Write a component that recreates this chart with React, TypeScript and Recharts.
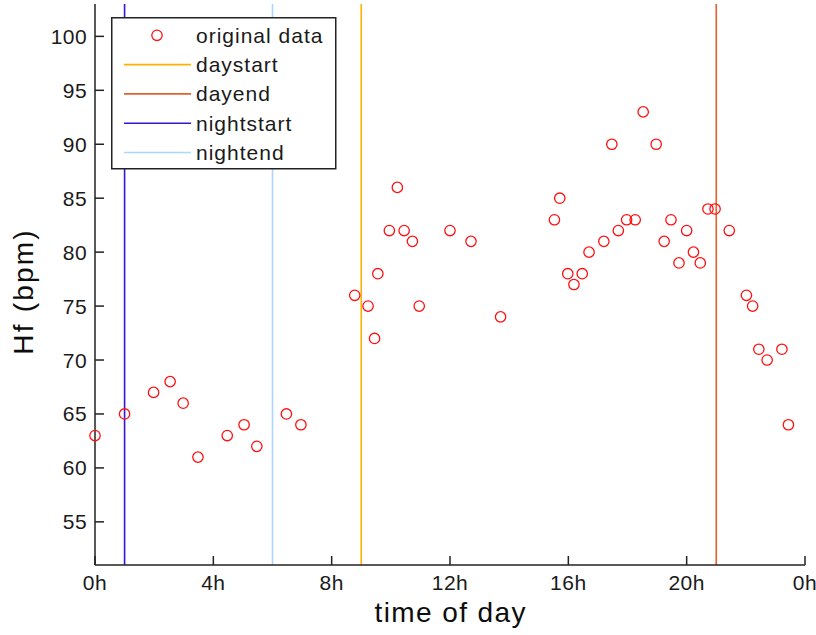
import React from 'react';
import { ScatterChart, Scatter, XAxis, YAxis, ReferenceLine, Legend } from 'recharts';

const hours = [0, 1, 1.98, 2.54, 2.98, 3.48, 4.47, 5.04, 5.47, 6.47, 6.96, 8.78, 9.23, 9.45, 9.56, 9.95, 10.22, 10.45, 10.73, 10.96, 12.0, 12.71, 13.71, 15.53, 15.71, 15.98, 16.19, 16.47, 16.7, 17.2, 17.47, 17.69, 17.97, 18.26, 18.53, 18.97, 19.24, 19.47, 19.74, 20.0, 20.23, 20.46, 20.72, 20.96, 21.44, 22.02, 22.23, 22.44, 22.72, 23.22, 23.44];
const bpm = [63, 65, 67, 68, 66, 61, 63, 64, 62, 65, 64, 76, 75, 72, 78, 82, 86, 82, 81, 75, 82, 81, 74, 83, 85, 78, 77, 78, 80, 81, 90, 82, 83, 83, 93, 90, 81, 83, 79, 82, 80, 79, 84, 84, 82, 76, 75, 71, 70, 71, 64];

const xTicks = [0, 4, 8, 12, 16, 20, 24];
const xTickLabels = ['0h', '4h', '8h', '12h', '16h', '20h', '0h'];
const yTicks = [55, 60, 65, 70, 75, 80, 85, 90, 95, 100];

const markerNames = ['daystart', 'dayend', 'nightstart', 'nightend'];
const markerHours = [9, 21, 1, 6];
const markerColors = ['#FFB000', '#E5602B', '#3A14CF', '#ACD6FF'];

const data = hours.map((h, i) => ({ h, v: bpm[i] }));

const FONT = '"Liberation Sans", Arial, Helvetica, sans-serif';
const TXT = '#1a1a1a';

const LeftTick = (props: any) => {
  const { x, y, payload } = props;
  return (
    <g>
      <line x1={x} y1={y} x2={x + 9} y2={y} stroke="#222" strokeWidth={1.5} />
      <text x={x - 8} y={y + 7.5} textAnchor="end" fontSize={21} letterSpacing={0.4} fontFamily={FONT} fill={TXT}>
        {payload.value}
      </text>
    </g>
  );
};
const RightTick = (props: any) => {
  const { x, y } = props;
  return <line x1={x} y1={y} x2={x - 9} y2={y} stroke="#222" strokeWidth={1.5} />;
};
const BottomTick = (props: any) => {
  const { x, y, payload, index } = props;
  return (
    <g>
      <line x1={x} y1={y} x2={x} y2={y - 9} stroke="#222" strokeWidth={1.5} />
      <text x={x} y={y + 25} textAnchor="middle" fontSize={21} letterSpacing={0.5} fontFamily={FONT} fill={TXT}>
        {xTickLabels[index] ?? payload.value}
      </text>
    </g>
  );
};
const TopTick = (props: any) => {
  const { x, y } = props;
  return <line x1={x} y1={y} x2={x} y2={y + 9} stroke="#222" strokeWidth={1.5} />;
};

const Circle = (props: any) => {
  const { cx, cy } = props;
  if (cx == null || cy == null) return null;
  return <circle cx={cx} cy={cy} r={5.2} fill="none" stroke="#FF1010" strokeWidth={1.3} />;
};

const LegendBox = () => {
  const rowGap = 29.3;
  const first = 18.3;
  return (
    <svg width={226} height={153} style={{ display: 'block' }}>
      <rect x={0.75} y={0.75} width={224} height={151} fill="#fff" stroke="#222" strokeWidth={1.5} />
      <circle cx={46} cy={first} r={5.2} fill="none" stroke="#FF1010" strokeWidth={1.3} />
      <text x={85} y={first + 7.5} fontSize={21} letterSpacing={1} fontFamily={FONT} fill={TXT}>original data</text>
      {markerNames.map((n, i) => {
        const cy = first + rowGap * (i + 1);
        return (
          <g key={n}>
            <line x1={13} y1={cy} x2={80} y2={cy} stroke={markerColors[i]} strokeWidth={1.6} />
            <text x={85} y={cy + 7.5} fontSize={21} letterSpacing={1} fontFamily={FONT} fill={TXT}>{n}</text>
          </g>
        );
      })}
    </svg>
  );
};

export default function App() {
  return (
    <div style={{ position: 'absolute', left: 0, top: 0, background: '#fff' }}>
      <ScatterChart width={816} height={635} margin={{ top: 4, right: 11, bottom: 0, left: 0 }}>
        <XAxis
          xAxisId="b"
          dataKey="h"
          type="number"
          domain={[0, 24]}
          ticks={xTicks}
          interval={0}
          orientation="bottom"
          height={70}
          tickSize={0}
          tickMargin={0}
          tickLine={false}
          axisLine={{ stroke: '#222', strokeWidth: 1.5 }}
          tick={BottomTick}
          label={{
            content: (p: any) => {
              const vb = p.viewBox || { x: 95, y: 565, width: 710 };
              return (
                <text x={vb.x + vb.width / 2 + 0.7} y={vb.y + 57} textAnchor="middle" fontSize={28} letterSpacing={1.4} fontFamily={FONT} fill="#0d0d0d">
                  time of day
                </text>
              );
            },
          }}
        />
        <XAxis
          xAxisId="t"
          type="number"
          domain={[0, 24]}
          ticks={xTicks}
          interval={0}
          orientation="top"
          height={0}
          tickSize={0}
          tickMargin={0}
          tickLine={false}
          axisLine={{ stroke: '#222', strokeWidth: 1.5 }}
          tick={TopTick}
        />
        <YAxis
          yAxisId="l"
          dataKey="v"
          type="number"
          domain={[51, 103]}
          ticks={yTicks}
          interval={0}
          orientation="left"
          width={95}
          tickSize={0}
          tickMargin={0}
          tickLine={false}
          axisLine={{ stroke: '#222', strokeWidth: 1.5 }}
          tick={LeftTick}
          label={{
            content: (p: any) => {
              const vb = p.viewBox || { x: 0, y: 4, height: 561 };
              const cy = vb.y + vb.height / 2 + 7;
              return (
                <text x={33} y={cy} transform={`rotate(-90, 33, ${cy})`} textAnchor="middle" fontSize={28} letterSpacing={2.2} fontFamily={FONT} fill="#0d0d0d">
                  Hf (bpm)
                </text>
              );
            },
          }}
        />
        <YAxis
          yAxisId="r"
          type="number"
          domain={[51, 103]}
          ticks={yTicks}
          interval={0}
          orientation="right"
          width={0}
          tickSize={0}
          tickMargin={0}
          tickLine={false}
          axisLine={{ stroke: '#222', strokeWidth: 1.5 }}
          tick={RightTick}
        />
        {markerNames.map((n, i) => (
          <ReferenceLine
            key={n}
            xAxisId="b"
            yAxisId="l"
            x={markerHours[i]}
            stroke={markerColors[i]}
            strokeWidth={1.6}
          />
        ))}
        <Scatter
          xAxisId="b"
          yAxisId="l"
          name="original data"
          data={data}
          shape={Circle}
          isAnimationActive={false}
        />
        <Legend
          layout="vertical"
          align="center"
          verticalAlign="middle"
          content={() => <LegendBox />}
          wrapperStyle={{ position: 'absolute', left: 111, top: 17, width: 226, height: 153 }}
        />
      </ScatterChart>
    </div>
  );
}
